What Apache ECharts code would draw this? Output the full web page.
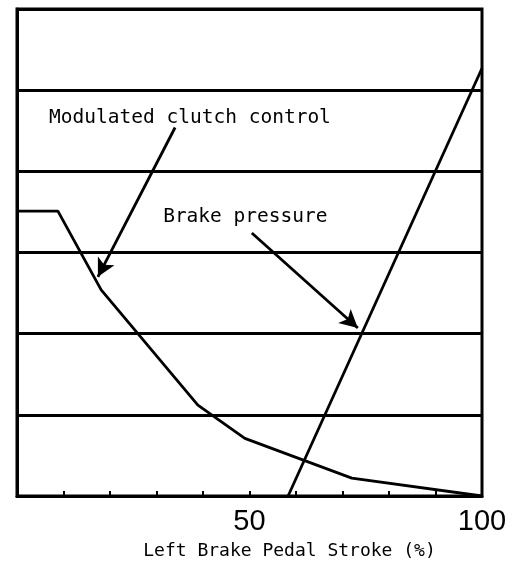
<!DOCTYPE html>
<html>
<head>
<meta charset="utf-8">
<script src="https://cdn.jsdelivr.net/npm/echarts@6/dist/echarts.min.js"></script>
<style>
  html, body { margin: 0; padding: 0; background: #fff; }
  #chart { width: 526px; height: 570px; }
</style>
</head>
<body>
<div id="chart"></div>
<script>
// pedal stroke (%) vs output level
var clutchX = [0, 8.8, 18.1, 38.9, 49.0, 72.0, 100];
var clutchY = [3.51, 3.51, 2.54, 1.12, 0.71, 0.22, 0];
var brakeX = [58.3, 100];
var brakeY = [0, 5.27];
var xLabels = [50, 100];
var axisTitle = "Left Brake Pedal Stroke (%)";

// annotation texts and arrows (data coords)
var clutchNote = { text: "Modulated clutch control", at: [37.2, 4.66], from: [34.0, 4.54], to: [17.4, 2.70] };
var brakeNote = { text: "Brake pressure", at: [49.1, 3.44], from: [50.5, 3.24], to: [73.3, 2.07] };

function zip(xs, ys) {
  return xs.map(function (x, i) { return [x, ys[i]]; });
}

var monoFont = "DejaVu Sans Mono";

function noteMarks(note) {
  return {
    markLine: {
      silent: true,
      symbol: ["none", "arrow"],
      symbolSize: [14, 18],
      lineStyle: { color: "#000", width: 2.8, type: "solid" },
      label: { show: false },
      data: [[{ coord: note.from }, { coord: note.to }]]
    },
    markPoint: {
      silent: true,
      symbol: "circle",
      symbolSize: 0,
      label: {
        show: true,
        position: "inside",
        color: "#000",
        fontFamily: monoFont,
        fontSize: 19.5,
        formatter: note.text
      },
      data: [{ coord: note.at }]
    }
  };
}

var chart = echarts.init(document.getElementById("chart"));

var clutchSeries = Object.assign({
  name: "clutch",
  type: "line",
  data: zip(clutchX, clutchY),
  symbol: "none",
  lineStyle: { color: "#000", width: 2.8 }
}, noteMarks(clutchNote));

var brakeSeries = Object.assign({
  name: "brake",
  type: "line",
  data: zip(brakeX, brakeY),
  symbol: "none",
  lineStyle: { color: "#000", width: 2.8 }
}, noteMarks(brakeNote));

chart.setOption({
  animation: false,
  grid: {
    left: 17, top: 9, right: 44, bottom: 74,
    show: true, borderColor: "#000", borderWidth: 3
  },
  xAxis: {
    type: "value",
    min: 0, max: 100, interval: 10,
    name: axisTitle,
    nameLocation: "middle",
    nameGap: 46,
    nameTextStyle: { color: "#000", fontFamily: monoFont, fontSize: 18, padding: [0, 0, 0, 80] },
    axisLine: { show: true, lineStyle: { color: "#000", width: 3 } },
    axisTick: { show: true, inside: true, length: 5, lineStyle: { color: "#000", width: 2 } },
    splitLine: { show: false },
    axisLabel: {
      color: "#000",
      fontFamily: "Liberation Sans",
      fontSize: 29,
      margin: 11,
      formatter: function (v) { return xLabels.indexOf(v) >= 0 ? String(v) : ""; }
    }
  },
  yAxis: {
    type: "value",
    min: 0, max: 6, interval: 1,
    axisLine: { show: true, lineStyle: { color: "#000", width: 3 } },
    axisTick: { show: false },
    axisLabel: { show: false },
    splitLine: { show: true, lineStyle: { color: "#000", width: 2.8 } }
  },
  series: [clutchSeries, brakeSeries]
});
</script>
</body>
</html>
